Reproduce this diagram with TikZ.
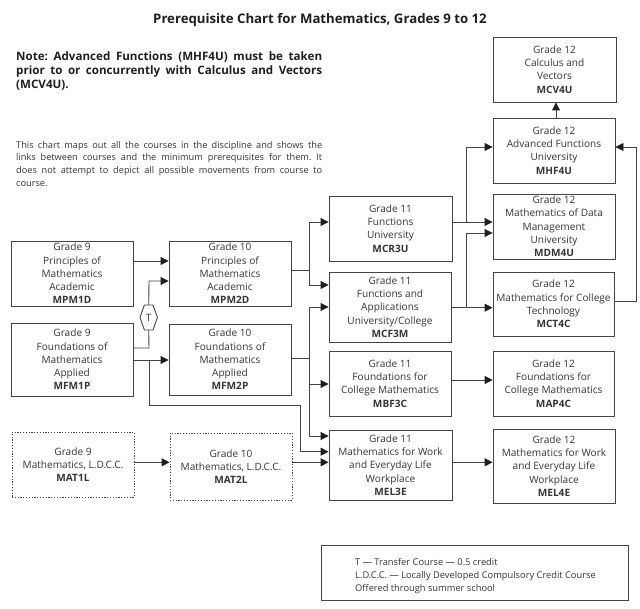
\documentclass[tikz,border=0pt]{standalone}
\usepackage{fontspec}
\setmainfont{Open Sans}
\usetikzlibrary{arrows.meta}
\frenchspacing
\definecolor{txt}{HTML}{363636}
\definecolor{linec}{HTML}{454545}
\definecolor{tipc}{HTML}{1E1E1E}
\newcommand\boxfont{\fontsize{10.1}{13.3}\selectfont}
\tikzset{
  course/.style={draw=linec, line width=0.9pt, fill=white, text=txt, align=center,
    inner sep=0pt, minimum width=122pt, minimum height=65pt, font=\boxfont},
  ldcc/.style={course, dash pattern=on 1.2pt off 1.6pt},
  ln/.style={draw=linec, line width=0.9pt},
  arr/.style={ln, -{Triangle[length=8pt,width=8pt,color=tipc]}},
}
\begin{document}
\begin{tikzpicture}[x=1pt,y=-1pt]
\useasboundingbox (0,0) rectangle (640,609);
\fill[white] (0,0) rectangle (640,609);

% title and notes
\node[text=black!88, font=\bfseries\fontsize{13.2}{15}\selectfont] (title) at (320,20) {Prerequisite Chart for Mathematics, Grades 9 to 12};
\node[anchor=north west, inner sep=0pt, text width=306pt, align=justify, text=black!88,
  font=\bfseries\fontsize{11.6}{14.2}\selectfont] (note) at (16,51)
  {\frenchspacing Note: Advanced Functions (MHF4U) must be taken\linebreak prior to or concurrently with Calculus and Vectors\linebreak (MCV4U).};
\node[anchor=north west, inner sep=0pt, text width=306pt, align=justify, text=txt,
  font=\fontsize{9.2}{12.8}\selectfont] (intro) at (16,141)
  {\frenchspacing This chart maps out all the courses in the discipline and shows the\linebreak links between courses and the minimum prerequisites for them. It\linebreak does not attempt to depict all possible movements from course to\linebreak course.};

% grade 9
\node[course] (MPM1D) at (72,273.5) {Grade 9\\Principles of\\Mathematics\\Academic\\\textbf{MPM1D}};
\node[course, minimum height=73pt] (MFM1P) at (72,359.5) {Grade 9\\Foundations of\\Mathematics\\Applied\\\textbf{MFM1P}};
\node[ldcc] (MAT1L) at (73,464.5) {Grade 9\\Mathematics, L.D.C.C.\\\textbf{MAT1L}};
% grade 10
\node[course] (MPM2D) at (230,273.5) {Grade 10\\Principles of\\Mathematics\\Academic\\\textbf{MPM2D}};
\node[course, minimum height=71pt] (MFM2P) at (230,359.5) {Grade 10\\Foundations of\\Mathematics\\Applied\\\textbf{MFM2P}};
\node[ldcc, minimum height=67pt] (MAT2L) at (231,466.5) {Grade 10\\Mathematics, L.D.C.C.\\\textbf{MAT2L}};
% grade 11
\node[course, minimum width=123pt] (MCR3U) at (390.5,228.5) {Grade 11\\Functions\\University\\\textbf{MCR3U}};
\node[course, minimum height=70pt] (MCF3M) at (390,307) {Grade 11\\Functions and\\Applications\\University/College\\\textbf{MCF3M}};
\node[course] (MBF3C) at (390,383.5) {Grade 11\\Foundations for\\College Mathematics\\\textbf{MBF3C}};
\node[course, minimum width=123pt, minimum height=70pt] (MEL3E) at (390.5,465) {Grade 11\\Mathematics for Work\\and Everyday Life\\Workplace\\\textbf{MEL3E}};
% grade 12
\node[course, minimum width=123pt] (MCV4U) at (554.5,69.5) {Grade 12\\Calculus and\\Vectors\\\textbf{MCV4U}};
\node[course] (MHF4U) at (554,150.5) {Grade 12\\Advanced Functions\\University\\\textbf{MHF4U}};
\node[course] (MDM4U) at (554,226.5) {Grade 12\\Mathematics of Data\\Management\\University\\\textbf{MDM4U}};
\node[course, minimum width=121pt, minimum height=64pt] (MCT4C) at (553.5,304) {Grade 12\\Mathematics for College\\Technology\\\textbf{MCT4C}};
\node[course, minimum width=121pt] (MAP4C) at (553.5,383.5) {Grade 12\\Foundations for\\College Mathematics\\\textbf{MAP4C}};
\node[course, minimum height=74pt] (MEL4E) at (554,466) {Grade 12\\Mathematics for Work\\and Everyday Life\\Workplace\\\textbf{MEL4E}};

% transfer hexagon
\node[text=txt, font=\boxfont, inner sep=0pt] (T) at (148.7,317.5) {T};
\draw[ln] ([shift={(-8.7,0)}]T.center) -- ([shift={(-4.3,-12.5)}]T.center) -- ([shift={(4.3,-12.5)}]T.center)
  -- ([shift={(8.7,0)}]T.center) -- ([shift={(4.3,12.5)}]T.center) -- ([shift={(-4.3,12.5)}]T.center) -- cycle;
\coordinate (Ttop) at ([shift={(0,-12.5)}]T.center);
\coordinate (Tbot) at ([shift={(0,12.5)}]T.center);

% legend
\node[draw=linec, line width=0.9pt, minimum width=307pt, minimum height=55pt, inner sep=0pt] (legend) at (474.5,572.5) {};
\node[anchor=west, align=left, inner sep=0pt, text=txt, font=\fontsize{9.3}{13}\selectfont] (legtext) at (355,576.5)
  {T — Transfer Course — 0.5 credit\\L.D.C.C. — Locally Developed Compulsory Credit Course\\Offered through summer school};

% junction coordinates
\coordinate (ya) at (0,261);
\coordinate (jT) at (149,348);
\coordinate (jT2) at (149,281);
\coordinate (jc) at (149,360);
\coordinate (jd1) at (149,405);
\coordinate (jd2) at (300.7,405);
\coordinate (yd) at (0,451.7);
\coordinate (je) at (309,270);
\coordinate (je1) at (309,222);
\coordinate (je2) at (309,285);
\coordinate (jf) at (309,358);
\coordinate (jf1) at (309,307);
\coordinate (jf2) at (309,384);
\coordinate (jf3) at (309,436);
\coordinate (yg) at (0,462.3);
\coordinate (ji) at (466,222);
\coordinate (ji1) at (466,147);
\coordinate (jj) at (466,307.7);
\coordinate (jj1) at (466,233);
\coordinate (jk) at (636,301.7);
\coordinate (jk1) at (636,147);
\coordinate (xl) at (556,0);
\coordinate (ym) at (0,380);

% connectors
\draw[arr] (MPM1D.east |- ya) -- (MPM2D.west |- ya);
\draw[ln] (MFM1P.east |- jT) -- (jT) -- (Tbot);
\draw[arr] (Ttop) -- (jT2) -- (MPM2D.west |- jT2);
\draw[arr] (MFM1P.east |- jc) -- (MFM2P.west |- jc);
\draw[arr] (jc) -- (jd1) -- (jd2) -- (jd2 |- yd) -- (MEL3E.west |- yd);
\draw[ln] (MPM2D.east |- je) -- (je);
\draw[arr] (je) -- (je1) -- (MCR3U.west |- je1);
\draw[arr] (je) -- (je2) -- (MCF3M.west |- je2);
\draw[ln] (MFM2P.east |- jf) -- (jf);
\draw[arr] (jf) -- (jf1) -- (MCF3M.west |- jf1);
\draw[arr] (jf) -- (jf2) -- (MBF3C.west |- jf2);
\draw[arr] (jf) -- (jf3) -- (MEL3E.west |- jf3);
\draw[arr] (MAT1L.east |- yg) -- (MAT2L.west |- yg);
\draw[arr] (MAT2L.east |- yg) -- (MEL3E.west |- yg);
\draw[arr] (MCR3U.east |- ji) -- (MDM4U.west |- ji);
\draw[arr] (ji) -- (ji1) -- (MHF4U.west |- ji1);
\draw[arr] (MCF3M.east |- jj) -- (MCT4C.west |- jj);
\draw[arr] (jj) -- (jj1) -- (MDM4U.west |- jj1);
\draw[arr] (MCT4C.east |- jk) -- (jk) -- (jk1) -- (MHF4U.east |- jk1);
\draw[arr] (MHF4U.north -| xl) -- (MCV4U.south -| xl);
\draw[arr] (MBF3C.east |- ym) -- (MAP4C.west |- ym);
\draw[arr] (MEL3E.east |- yg) -- (MEL4E.west |- yg);
\end{tikzpicture}
\end{document}
